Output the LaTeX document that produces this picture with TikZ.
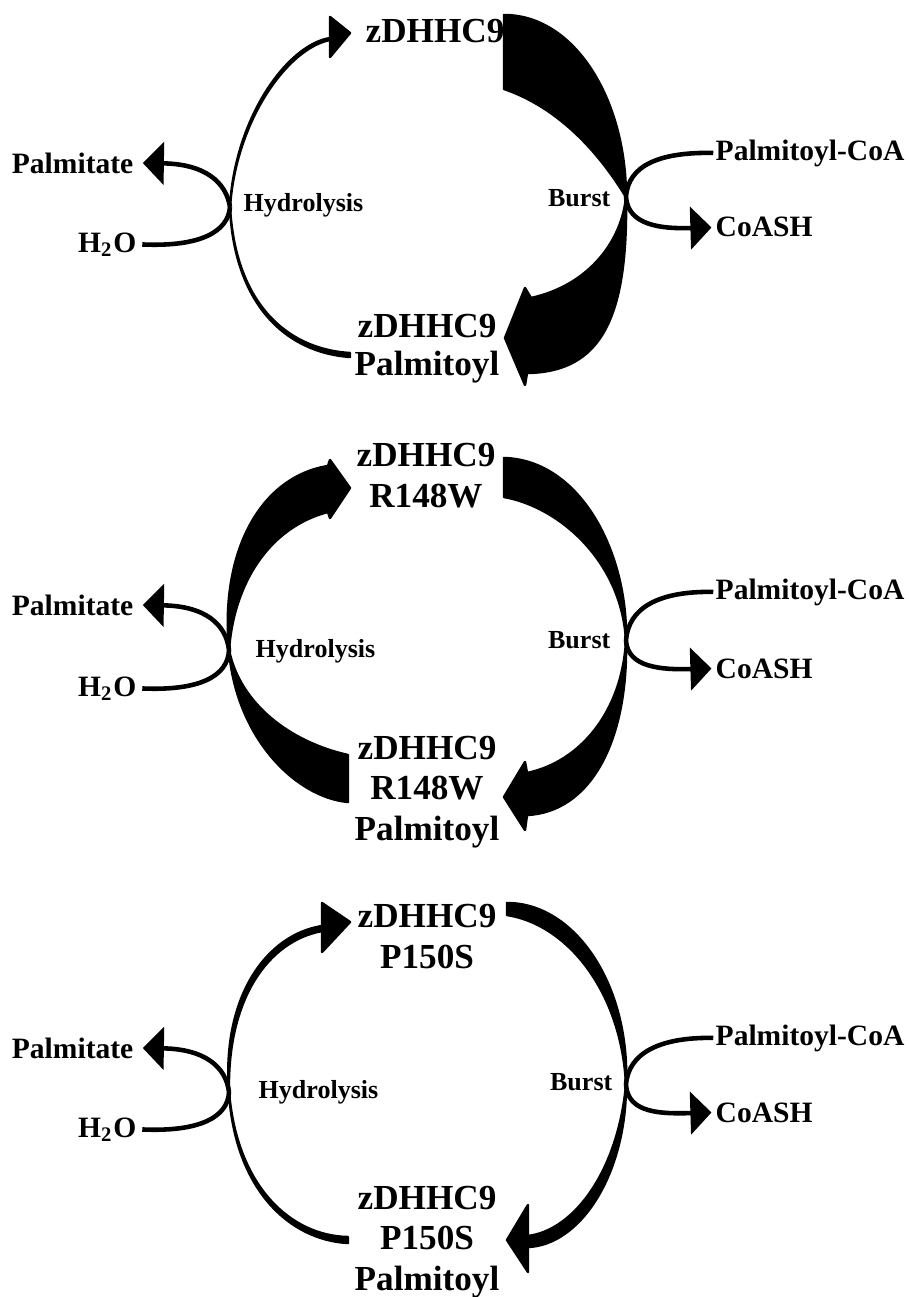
\documentclass[tikz,border=0pt]{standalone}
\usepackage{fontspec}
\setmainfont{Liberation Serif}
\usetikzlibrary{arrows.meta}

\begin{document}
\begin{tikzpicture}
    [ x=0.01cm, y=-0.01cm,
      enzyme/.style={font=\fontsize{10}{11.4}\selectfont\bfseries, align=center, inner sep=0pt},
      metab/.style={font=\fontsize{8.4}{10}\selectfont\bfseries, inner sep=0pt},
      process/.style={font=\fontsize{7.4}{9}\selectfont\bfseries, inner sep=0pt},
      flux/.style={black, draw=black, fill=black, line width=0.7pt, line join=round},
      rxn/.style={black, line width=1.3pt},
      rxnArrow/.style={black, line width=1.3pt, -{Triangle[length=6pt,width=12pt]}}]

  \useasboundingbox (0,0) rectangle (908,1297);

%%%%%%%%%%%%%%%%%%%%%%%%%%%%%%%%%%%%%%%%%%%%%%%%%%%%%%%%%%%%%%%%%%%%%%%%%%%%%%%%
%panel 1: zDHHC9
  \begin{scope}
	  \node[enzyme, anchor=base] (wt) at (435,43) {zDHHC9};
	  \node[enzyme, anchor=base, font=\fontsize{10}{10.6}\selectfont\bfseries] (wtPal) at (427,375) {zDHHC9\\Palmitoyl};
	  \coordinate (hyd1) at (230,207);
	  \coordinate (brs1) at (626,197);

	  % cycle fluxes
	  \filldraw[flux] (hyd1) .. controls (235,118) and (287,45) .. (330,38) -- (330,17) -- (350,33) -- (330,57) -- (330,40) .. controls (288,48) and (236,120) .. (hyd1) -- cycle;
	  \filldraw[flux] (hyd1) .. controls (234,300) and (282,352) .. (350,357) -- (350,353) .. controls (283,349) and (235,299) .. (hyd1) -- cycle;
	  \filldraw[flux] (504,15) -- (504,89) .. controls (554,106) and (595,146) .. (brs1) .. controls (626,100) and (575,15) .. (504,15) -- cycle;
	  \filldraw[flux] (brs1) .. controls (628,320) and (600,372) .. (527,373) -- (525,385) -- (505,338) -- (525,288) -- (531,298) .. controls (590,285) and (622,240) .. (brs1) -- cycle;

	  % side reactions
	  \node[metab, anchor=base east] (palm1) at (134,173) {Palmitate};
	  \node[metab, anchor=base east] (wat1) at (137,252) {H\textsubscript{2}O};
	  \node[process, anchor=base west] (hydL1) at (243,212) {Hydrolysis};
	  \node[process, anchor=base east] (brsL1) at (611,207) {Burst};
	  \node[metab, anchor=base west] (pcoa1) at (715,160) {Palmitoyl-CoA};
	  \node[metab, anchor=base west] (coa1) at (715,237) {CoASH};
	  \draw[rxnArrow, shorten >=2.5pt] (hyd1) .. controls (226,182) and (205,164) .. (palm1.east);
	  \draw[rxn, shorten <=1.5pt] (wat1.east) .. controls (200,247) and (228,232) .. (hyd1);
	  \draw[rxn, shorten <=0.5pt] (pcoa1.west) .. controls (660,152) and (628,165) .. (brs1);
	  \draw[rxnArrow, shorten >=1pt] (brs1) .. controls (628,225) and (660,229) .. (coa1.west);
  \end{scope}

%%%%%%%%%%%%%%%%%%%%%%%%%%%%%%%%%%%%%%%%%%%%%%%%%%%%%%%%%%%%%%%%%%%%%%%%%%%%%%%%
%panel 2: R148W
  \begin{scope}[shift={(0,442)}]
	  \node[enzyme, anchor=base] (rw) at (426,65) {zDHHC9\\R148W};
	  \node[enzyme, anchor=base] (rwPal) at (427,398) {zDHHC9\\R148W\\Palmitoyl};
	  \coordinate (hyd2) at (229,208);
	  \coordinate (brs2) at (626,199);

	  % cycle fluxes
	  \filldraw[flux] (hyd2) .. controls (220,110) and (260,35) .. (328,24) -- (330,18) -- (350,46) -- (330,76) -- (328,70) .. controls (270,85) and (234,140) .. (hyd2) -- cycle;
	  \filldraw[flux] (hyd2) .. controls (236,295) and (295,355) .. (348,360) -- (348,313) .. controls (290,300) and (240,262) .. (hyd2) -- cycle;
	  \filldraw[flux] (504,16) -- (504,55) .. controls (560,65) and (622,120) .. (brs2) .. controls (628,110) and (580,18) .. (504,16) -- cycle;
	  \filldraw[flux] (brs2) .. controls (628,300) and (590,370) .. (527,373) -- (525,388) -- (504,355) -- (525,320) -- (527,331) .. controls (580,320) and (622,270) .. (brs2) -- cycle;

	  % side reactions
	  \node[metab, anchor=base east] (palm2) at (134,173) {Palmitate};
	  \node[metab, anchor=base east] (wat2) at (137,254) {H\textsubscript{2}O};
	  \node[process, anchor=base west] (hydL2) at (255,215) {Hydrolysis};
	  \node[process, anchor=base east] (brsL2) at (611,206) {Burst};
	  \node[metab, anchor=base west] (pcoa2) at (715,157) {Palmitoyl-CoA};
	  \node[metab, anchor=base west] (coa2) at (715,236) {CoASH};
	  \draw[rxnArrow, shorten >=2.5pt] (hyd2) .. controls (226,182) and (205,164) .. (palm2.east);
	  \draw[rxn, shorten <=1.5pt] (wat2.east) .. controls (200,249) and (228,234) .. (hyd2);
	  \draw[rxn, shorten <=0.5pt] (pcoa2.west) .. controls (660,149) and (628,165) .. (brs2);
	  \draw[rxnArrow, shorten >=1pt] (brs2) .. controls (628,225) and (660,228) .. (coa2.west);
  \end{scope}

%%%%%%%%%%%%%%%%%%%%%%%%%%%%%%%%%%%%%%%%%%%%%%%%%%%%%%%%%%%%%%%%%%%%%%%%%%%%%%%%
%panel 3: P150S
  \begin{scope}[shift={(0,885)}]
	  \node[enzyme, anchor=base] (ps) at (427,83) {zDHHC9\\P150S};
	  \node[enzyme, anchor=base] (psPal) at (427,405) {zDHHC9\\P150S\\Palmitoyl};
	  \coordinate (hyd3) at (229,207);
	  \coordinate (brs3) at (626,200);

	  % cycle fluxes
	  \filldraw[flux] (hyd3) .. controls (222,112) and (266,50) .. (322,41) -- (322,18) -- (350,37) -- (322,67) -- (322,46) .. controls (268,56) and (227,114) .. (hyd3) -- cycle;
	  \filldraw[flux] (hyd3) .. controls (235,305) and (290,355) .. (348,358) -- (348,352) .. controls (291,351) and (237,302) .. (hyd3) -- cycle;
	  \filldraw[flux] (507,18) -- (507,30) .. controls (570,40) and (622,110) .. (brs3) .. controls (630,100) and (575,18) .. (507,18) -- cycle;
	  \filldraw[flux] (brs3) .. controls (626,290) and (580,360) .. (528,362) -- (528,387) -- (507,355) -- (528,320) -- (528,351) .. controls (575,345) and (618,285) .. (brs3) -- cycle;

	  % side reactions
	  \node[metab, anchor=base east] (palm3) at (134,173) {Palmitate};
	  \node[metab, anchor=base east] (wat3) at (137,252) {H\textsubscript{2}O};
	  \node[process, anchor=base west] (hydL3) at (258,213) {Hydrolysis};
	  \node[process, anchor=base east] (brsL3) at (613,205) {Burst};
	  \node[metab, anchor=base west] (pcoa3) at (715,160) {Palmitoyl-CoA};
	  \node[metab, anchor=base west] (coa3) at (715,237) {CoASH};
	  \draw[rxnArrow, shorten >=2.5pt] (hyd3) .. controls (226,182) and (205,164) .. (palm3.east);
	  \draw[rxn, shorten <=1.5pt] (wat3.east) .. controls (200,247) and (228,232) .. (hyd3);
	  \draw[rxn, shorten <=0.5pt] (pcoa3.west) .. controls (660,152) and (628,168) .. (brs3);
	  \draw[rxnArrow, shorten >=1pt] (brs3) .. controls (628,228) and (660,229) .. (coa3.west);
  \end{scope}

\end{tikzpicture}
\end{document}
